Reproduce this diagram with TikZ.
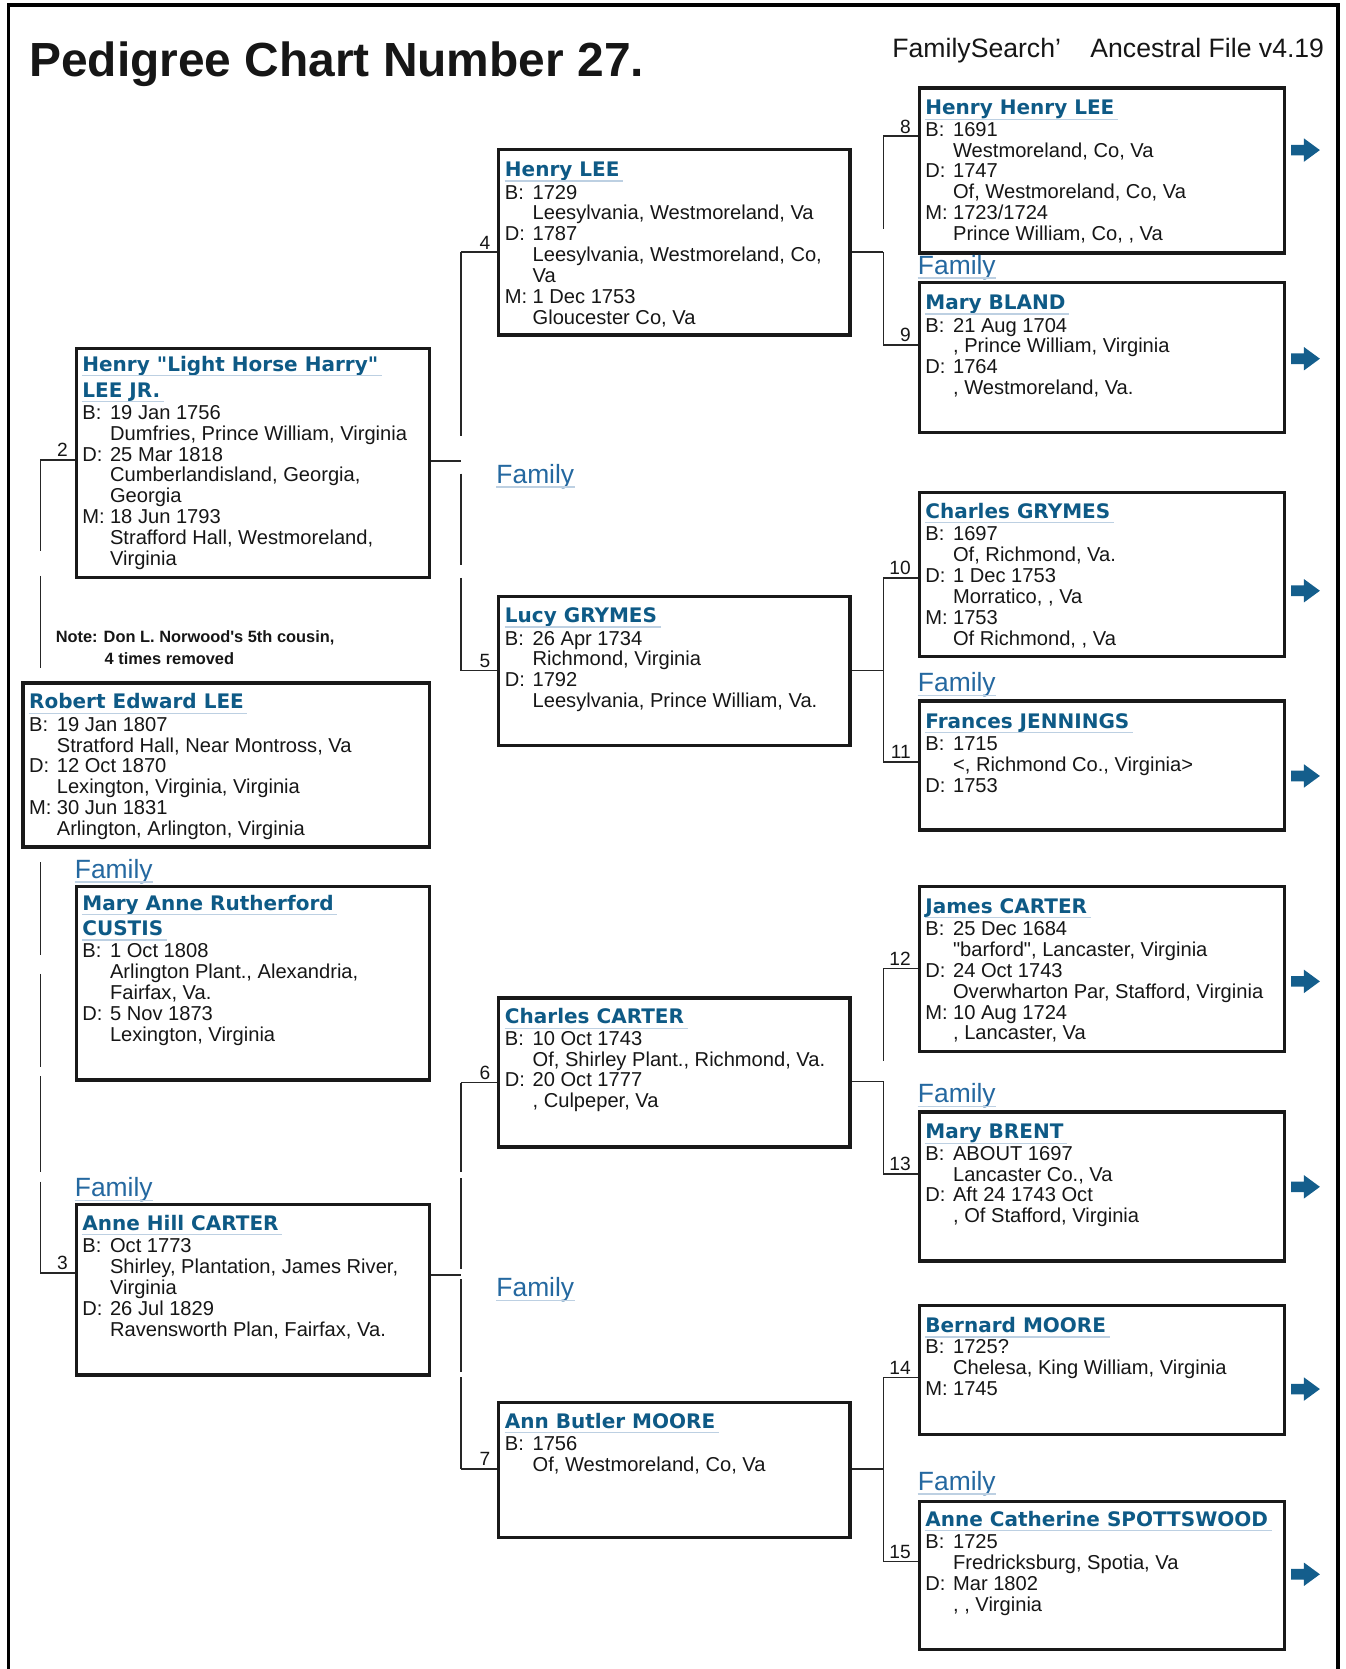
\documentclass[tikz,border=0pt]{standalone}
\usepackage{fontspec}
\setmainfont{Liberation Sans}[Ligatures=TeXOff]
\newfontfamily\dejavu{DejaVu Sans}

\definecolor{namecol}{HTML}{0E5A86}
\definecolor{famcol}{HTML}{2468A0}
\definecolor{arrcol}{HTML}{145E8C}
\definecolor{ulcol}{HTML}{BDD0E2}
\definecolor{txtcol}{HTML}{161616}

\newcommand\bodyfont{\fontsize{9.45pt}{9.8pt}\selectfont}
\newcommand\namefnt{\dejavu\bfseries\fontsize{9.4pt}{11pt}\selectfont}
\newcommand\datel[2]{\hbox{\makebox[13pt][l]{#1}#2}}
\newcommand\placel[1]{\hbox{\hspace*{13pt}#1}}
\newcommand\lines[1]{\vtop{\lineskiplimit=-20pt #1}}

\begin{document}
\begin{tikzpicture}[x=0.5pt,y=-0.5pt,
 pbox/.style={draw=black!90, line width=1.6pt, fill=white, anchor=north west, inner sep=0pt},
 pname/.style={anchor=base west, inner sep=0pt, font=\namefnt, text=namecol},
 pbody/.style={anchor=base west, inner sep=0pt, font=\bodyfont, text=txtcol},
 num/.style={anchor=base east, inner sep=0pt, font=\fontsize{9pt}{10pt}\selectfont, text=txtcol},
 conn/.style={line width=0.8pt, draw=black!85},
 fam/.style={anchor=base west, inner sep=0pt, font=\fontsize{12.4pt}{14pt}\selectfont, text=famcol},
 uline/.style={line width=0.6pt, draw=ulcol},
 frame/.style={line width=1.8pt, draw=black},
 navarr/.pic={\fill[arrcol] (0,-5) -- (12,-5) -- (12,-11) -- (27,0) -- (12,11) -- (12,5) -- (0,5) -- cycle;}
]
\useasboundingbox (0,0) rectangle (1264,1568);
\fill[white] (0,0) rectangle (1264,1568);

% frame
\draw[frame] (8,1575) -- (8,5) -- (1257,5) -- (1257,1575);

% header
\node[anchor=base west, inner sep=0pt, font=\bfseries\fontsize{22.5pt}{26pt}\selectfont, text=txtcol] (title) at (27,72) {Pedigree Chart Number 27.};
\node[anchor=base west, inner sep=0pt, font=\fontsize{12.5pt}{14pt}\selectfont, text=txtcol] (hdr1) at (838,54) {FamilySearch’};
\node[anchor=base west, inner sep=0pt, font=\fontsize{12.5pt}{14pt}\selectfont, text=txtcol] (hdr2) at (1024,54) {Ancestral File v4.19};

% note
\node[anchor=base west, inner sep=0pt, font=\bfseries\fontsize{7.7pt}{9pt}\selectfont, text=txtcol] (note1) at (52,604) {Note: Don L. Norwood's 5th cousin,};
\node[anchor=base west, inner sep=0pt, font=\bfseries\fontsize{7.7pt}{9pt}\selectfont, text=txtcol] (note2) at (98,624) {4 times removed};

% ---------- boxes ----------
\node[pbox, minimum width=191pt, minimum height=77pt] (p1) at (20,640) {};
\node[pbox, minimum width=166pt, minimum height=107.5pt] (p2) at (70,326) {};
\node[pbox, minimum width=166pt, minimum height=91pt] (pm) at (70,831) {};
\node[pbox, minimum width=166pt, minimum height=80pt] (p3) at (70,1130) {};
\node[pbox, minimum width=165pt, minimum height=87pt] (p4) at (467,139) {};
\node[pbox, minimum width=165pt, minimum height=70pt] (p5) at (467,559) {};
\node[pbox, minimum width=165pt, minimum height=70pt] (p6) at (467,936) {};
\node[pbox, minimum width=165pt, minimum height=63.5pt] (p7) at (467,1316) {};
\node[pbox, minimum width=171.5pt, minimum height=77.5pt] (p8) at (862,81) {};
\node[pbox, minimum width=171.5pt, minimum height=70.5pt] (p9) at (862,264) {};
\node[pbox, minimum width=171.5pt, minimum height=77pt] (p10) at (862,461) {};
\node[pbox, minimum width=171.5pt, minimum height=60.5pt] (p11) at (862,657) {};
\node[pbox, minimum width=171.5pt, minimum height=77.5pt] (p12) at (862,831) {};
\node[pbox, minimum width=171.5pt, minimum height=70pt] (p13) at (862,1043) {};
\node[pbox, minimum width=171.5pt, minimum height=60.5pt] (p14) at (862,1225) {};
\node[pbox, minimum width=171.5pt, minimum height=69.5pt] (p15) at (862,1409) {};

% ---------- texts ----------
\node[pname] (p1n) at (27,666) {Robert Edward LEE};
\node[pbody] (p1b) at (27,687) {\lines{\datel{B:}{19 Jan 1807}\placel{Stratford Hall, Near Montross, Va}\datel{D:}{12 Oct 1870}\placel{Lexington, Virginia, Virginia}\datel{M:}{30 Jun 1831}\placel{Arlington, Arlington, Virginia}}};

\node[pname] (p2n1) at (77,349) {Henry "Light Horse Harry"};
\node[pname] (p2n2) at (77,373) {LEE JR.};
\node[pbody] (p2b) at (77,394) {\lines{\datel{B:}{19 Jan 1756}\placel{Dumfries, Prince William, Virginia}\datel{D:}{25 Mar 1818}\placel{Cumberlandisland, Georgia,}\placel{Georgia}\datel{M:}{18 Jun 1793}\placel{Strafford Hall, Westmoreland,}\placel{Virginia}}};

\node[pname] (pmn1) at (77,855) {Mary Anne Rutherford};
\node[pname] (pmn2) at (77,879) {CUSTIS};
\node[pbody] (pmb) at (77,900) {\lines{\datel{B:}{1 Oct 1808}\placel{Arlington Plant., Alexandria,}\placel{Fairfax, Va.}\datel{D:}{5 Nov 1873}\placel{Lexington, Virginia}}};

\node[pname] (p3n) at (77,1156) {Anne Hill CARTER};
\node[pbody] (p3b) at (77,1177) {\lines{\datel{B:}{Oct 1773}\placel{Shirley, Plantation, James River,}\placel{Virginia}\datel{D:}{26 Jul 1829}\placel{Ravensworth Plan, Fairfax, Va.}}};

\node[pname] (p4n) at (474,166) {Henry LEE};
\node[pbody] (p4b) at (474,187) {\lines{\datel{B:}{1729}\placel{Leesylvania, Westmoreland, Va}\datel{D:}{1787}\placel{Leesylvania, Westmoreland, Co,}\placel{Va}\datel{M:}{1 Dec 1753}\placel{Gloucester Co, Va}}};

\node[pname] (p5n) at (474,585) {Lucy GRYMES};
\node[pbody] (p5b) at (474,606) {\lines{\datel{B:}{26 Apr 1734}\placel{Richmond, Virginia}\datel{D:}{1792}\placel{Leesylvania, Prince William, Va.}}};

\node[pname] (p6n) at (474,962) {Charles CARTER};
\node[pbody] (p6b) at (474,982) {\lines{\datel{B:}{10 Oct 1743}\placel{Of, Shirley Plant., Richmond, Va.}\datel{D:}{20 Oct 1777}\placel{, Culpeper, Va}}};

\node[pname] (p7n) at (474,1342) {Ann Butler MOORE};
\node[pbody] (p7b) at (474,1363) {\lines{\datel{B:}{1756}\placel{Of, Westmoreland, Co, Va}}};

\node[pname] (p8n) at (869,108) {Henry Henry LEE};
\node[pbody] (p8b) at (869,128) {\lines{\datel{B:}{1691}\placel{Westmoreland, Co, Va}\datel{D:}{1747}\placel{Of, Westmoreland, Co, Va}\datel{M:}{1723/1724}\placel{Prince William, Co, , Va}}};

\node[pname] (p9n) at (869,291) {Mary BLAND};
\node[pbody] (p9b) at (869,312) {\lines{\datel{B:}{21 Aug 1704}\placel{, Prince William, Virginia}\datel{D:}{1764}\placel{, Westmoreland, Va.}}};

\node[pname] (p10n) at (869,487) {Charles GRYMES};
\node[pbody] (p10b) at (869,508) {\lines{\datel{B:}{1697}\placel{Of, Richmond, Va.}\datel{D:}{1 Dec 1753}\placel{Morratico, , Va}\datel{M:}{1753}\placel{Of Richmond, , Va}}};

\node[pname] (p11n) at (869,684) {Frances JENNINGS};
\node[pbody] (p11b) at (869,705) {\lines{\datel{B:}{1715}\placel{<, Richmond Co., Virginia>}\datel{D:}{1753}}};

\node[pname] (p12n) at (869,858) {James CARTER};
\node[pbody] (p12b) at (869,879) {\lines{\datel{B:}{25 Dec 1684}\placel{"barford", Lancaster, Virginia}\datel{D:}{24 Oct 1743}\placel{Overwharton Par, Stafford, Virginia}\datel{M:}{10 Aug 1724}\placel{, Lancaster, Va}}};

\node[pname] (p13n) at (869,1070) {Mary BRENT};
\node[pbody] (p13b) at (869,1090) {\lines{\datel{B:}{ABOUT 1697}\placel{Lancaster Co., Va}\datel{D:}{Aft 24 1743 Oct}\placel{, Of Stafford, Virginia}}};

\node[pname] (p14n) at (869,1252) {Bernard MOORE};
\node[pbody] (p14b) at (869,1272) {\lines{\datel{B:}{1725?}\placel{Chelesa, King William, Virginia}\datel{M:}{1745}}};

\node[pname] (p15n) at (869,1434) {Anne Catherine SPOTTSWOOD};
\node[pbody] (p15b) at (869,1455) {\lines{\datel{B:}{1725}\placel{Fredricksburg, Spotia, Va}\datel{D:}{Mar 1802}\placel{, , Virginia}}};

\foreach \n in {p1n,p2n1,p2n2,pmn1,pmn2,p3n,p4n,p5n,p6n,p7n,p8n,p9n,p10n,p11n,p12n,p13n,p14n,p15n}
  \draw[uline] ([yshift=-2pt]\n.base west) -- ([yshift=-2pt,xshift=1.5pt]\n.base east);

% ---------- Family links ----------
\node[fam] (f1) at (862,257.5) {Family};
\node[fam] (f2) at (466,454) {Family};
\node[fam] (f3) at (862,650) {Family};
\node[fam] (f4) at (70,825) {Family};
\node[fam] (f5) at (862,1036) {Family};
\node[fam] (f6) at (70,1124) {Family};
\node[fam] (f7) at (466,1218) {Family};
\node[fam] (f8) at (862,1400) {Family};
\foreach \n in {f1,f2,f3,f4,f5,f6,f7,f8}
  \draw[uline] ([yshift=-1.8pt]\n.base west) -- ([yshift=-1.8pt]\n.base east);

% ---------- numbers ----------
\node[num] (n2) at (64,429) {2};
\node[num] (n3) at (64,1193) {3};
\node[num] (n4) at (461,234) {4};
\node[num] (n5) at (461,627) {5};
\node[num] (n6) at (461,1014) {6};
\node[num] (n7) at (461,1377) {7};
\node[num] (n8) at (856,125) {8};
\node[num] (n9) at (856,321) {9};
\node[num] (n10) at (856,540) {10};
\node[num] (n11) at (856,713) {11};
\node[num] (n12) at (856,907) {12};
\node[num] (n13) at (856,1100) {13};
\node[num] (n14) at (856,1291) {14};
\node[num] (n15) at (856,1464) {15};

% ---------- connectors ----------
% generation 1 -> 2,3
\coordinate (a2) at (38,432);
\coordinate (a3) at (38,1196);
\draw[conn] (a2) -- (a2 -| p2.west);
\draw[conn] (a3) -- (a3 -| p3.west);
\draw[conn, dash pattern=on 43pt off 11.5pt on 43.5pt off 91pt on 43.5pt off 9pt on 43.5pt off 4.5pt on 45pt off 4.5pt on 43pt] (a2) -- (a3);

% generation 2 -> 3 (top)
\coordinate (k4) at (433,237);
\coordinate (k5) at (433,630);
\coordinate (j2) at (433,433);
\draw[conn] (k4) -- (k4 -| p4.west);
\draw[conn] (k5) -- (k5 -| p5.west);
\draw[conn] (j2 -| p2.east) -- (j2);
\draw[conn, dash pattern=on 86.5pt off 17.5pt on 43pt off 6pt on 43.5pt] (k4) -- (k5);

% generation 2 -> 3 (bottom)
\coordinate (k6) at (433,1017);
\coordinate (k7) at (433,1380);
\coordinate (j3) at (433,1198);
\draw[conn] (k6) -- (k6 -| p6.west);
\draw[conn] (k7) -- (k7 -| p7.west);
\draw[conn] (j3 -| p3.east) -- (j3);
\draw[conn, dash pattern=on 42pt off 3pt on 42.5pt off 5pt on 43.5pt off 2.5pt on 43pt] (k6) -- (k7);

% generation 3 -> 4
\coordinate (k8) at (830,128);
\coordinate (k9) at (830,324);
\coordinate (j4) at (830,237);
\draw[conn] (k8) -- (k8 -| p8.west);
\draw[conn] (k9) -- (k9 -| p9.west);
\draw[conn] (j4 -| p4.east) -- (j4);
\draw[conn, dash pattern=on 43.5pt off 11pt on 43.5pt] (k8) -- (k9);

\coordinate (k10) at (830,543);
\coordinate (k11) at (830,716);
\coordinate (j5) at (830,630);
\draw[conn] (k10) -- (k10 -| p10.west);
\draw[conn] (k11) -- (k11 -| p11.west);
\draw[conn] (j5 -| p5.east) -- (j5);
\draw[conn] (k10) -- (k11);

\coordinate (k12) at (830,910);
\coordinate (k13) at (830,1103);
\coordinate (j6) at (830,1016);
\draw[conn] (k12) -- (k12 -| p12.west);
\draw[conn] (k13) -- (k13 -| p13.west);
\draw[conn] (j6 -| p6.east) -- (j6);
\draw[conn, dash pattern=on 43.5pt off 9.5pt on 43.5pt] (k12) -- (k13);

\coordinate (k14) at (830,1294);
\coordinate (k15) at (830,1467);
\coordinate (j7) at (830,1380);
\draw[conn] (k14) -- (k14 -| p14.west);
\draw[conn] (k15) -- (k15 -| p15.west);
\draw[conn] (j7 -| p7.east) -- (j7);
\draw[conn] (k14) -- (k15);

% ---------- arrows ----------
\foreach \yy in {141,337,555,729,922,1115,1305,1479}
  \pic at (1213,\yy) {navarr};

\end{tikzpicture}
\end{document}
